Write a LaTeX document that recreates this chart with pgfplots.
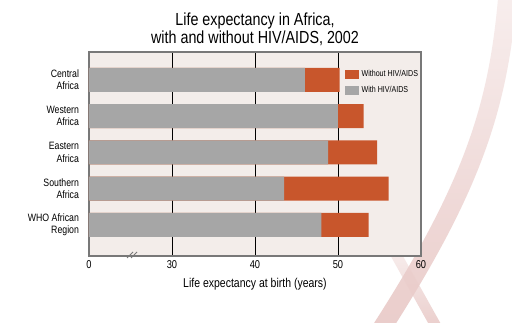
\documentclass[border=0pt]{standalone}
\usepackage{pgfplots}
\pgfplotsset{compat=1.18}
\usetikzlibrary{fadings}
\usepackage{fontspec}
\setmainfont{Liberation Sans}[FakeStretch=0.82]
\definecolor{barorange}{RGB}{200,86,44}
\definecolor{bargray}{RGB}{166,166,166}
\definecolor{plotbg}{RGB}{243,237,234}
\definecolor{ribbon}{RGB}{234,204,202}
\definecolor{framegray}{RGB}{120,120,120}
\tikzfading[name=ribfade, top color=transparent!70, bottom color=transparent!0]
\begin{document}
\begin{tikzpicture}[x=0.75pt,y=0.75pt]
\path[use as bounding box, fill=white] (0,0) rectangle (512,323);
\begin{scope}
\clip (0,0) rectangle (512,323);
\draw[ribbon, line width=14pt, path fading=ribfade] (508,332) .. controls (499,220) and (475,140) .. (382,-5);
\draw[ribbon, line width=8pt, path fading=ribfade] (394,72) -- (437,-5);
\end{scope}
\node[align=center, font=\fontsize{13.1}{13.2}\selectfont] at (255,293.5) {Life expectancy in Africa,\\with and without HIV/AIDS, 2002};
\begin{axis}[at={(66.75pt,50.25pt)}, anchor=south west, scale only axis,
  width=249pt, height=153pt,
  xmin=20, xmax=60, ymin=-0.77, ymax=4.86, y dir=reverse,
  xtick={20,30,40,50,60}, xticklabels={0,30,40,50,60},
  ytick={0,1,2,3,4},
  yticklabels={{Central\\Africa},{Western\\Africa},{Eastern\\Africa},{Southern\\Africa},{WHO African\\Region}},
  yticklabel style={align=right, font=\fontsize{8}{9.2}\selectfont, xshift=-4pt},
  xticklabel style={font=\fontsize{8.5}{10}\selectfont},
  major tick length=0pt,
  xmajorgrids, grid style={black, line width=0.6pt},
  axis background/.style={fill=plotbg},
  axis line style={framegray, line width=0.8pt},
  xbar, bar width=18pt, bar shift=0pt,
  xlabel={Life expectancy at birth (years)},
  xlabel style={font=\fontsize{9.6}{11}\selectfont},
  legend style={at={(0.77,0.925)}, anchor=north west, draw=none, fill=none,
    font=\fontsize{6.5}{7}\selectfont, inner sep=0pt, row sep=2pt, cells={anchor=west}},
  legend image code/.code={\fill[#1] (0pt,-3.4pt) rectangle (10.5pt,3.4pt);},
  /pgf/number format/assume math mode=true,
]
\addplot[fill=barorange, draw=none] coordinates {(50.2,0) (53.1,1) (54.7,2) (56.1,3) (53.7,4)};
\addplot[fill=bargray, draw=none] coordinates {(46.0,0) (50.0,1) (48.8,2) (43.5,3) (48.0,4)};
\legend{Without HIV/AIDS, With HIV/AIDS}
\end{axis}
\draw[framegray, line width=0.6pt] (127,65)--(133,71) (131,65)--(137,71);
\end{tikzpicture}
\end{document}
